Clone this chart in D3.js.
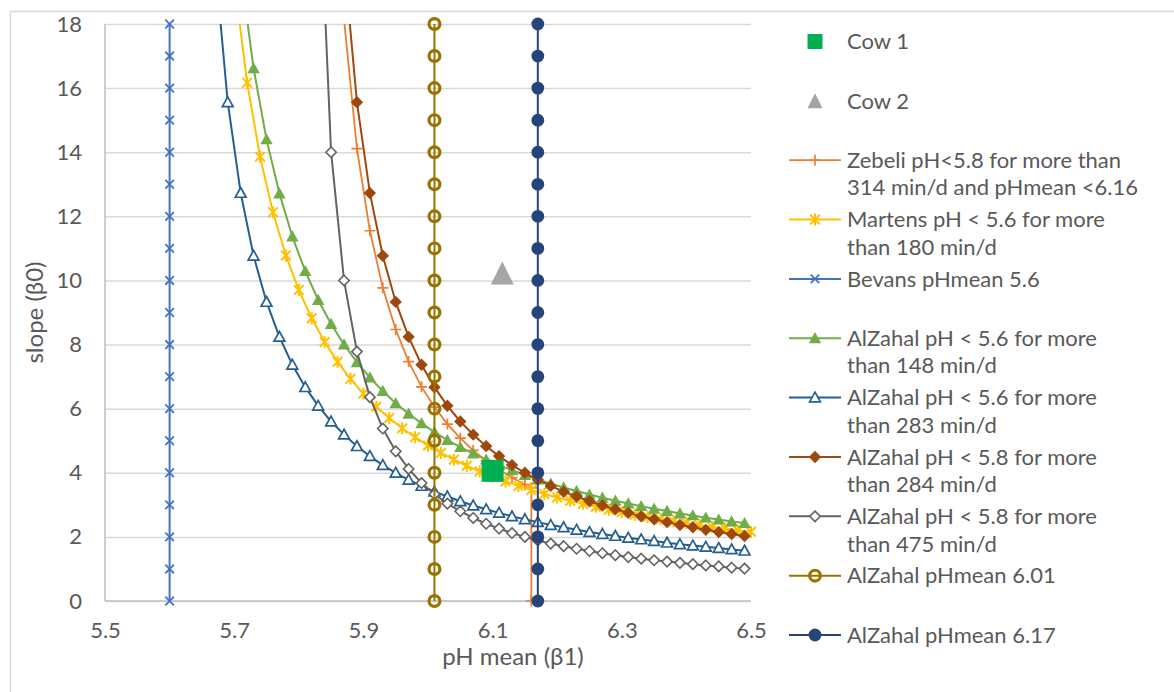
<!DOCTYPE html>
<html>
<head>
<meta charset="utf-8">
<script src="https://cdn.jsdelivr.net/npm/d3@7"></script>
<style>
  html, body { margin: 0; padding: 0; background: #ffffff; }
  svg { display: block; font-family: Lato, "Open Sans", sans-serif; }
</style>
</head>
<body>
<svg id="chart" width="1174" height="692"></svg>
<script>
// ---- data -------------------------------------------------------------
// Axis ticks
const xTickValues = [5.5, 5.7, 5.9, 6.1, 6.3, 6.5];
const yTickValues = [0, 2, 4, 6, 8, 10, 12, 14, 16, 18];

// Individual cows: [pH mean (β1), slope (β0)]
const cow1 = [6.10, 4.06];
const cow2 = [6.115, 10.23];

// Zebeli pH<5.8 for more than 314 min/d and pHmean <6.16
const zebeliX = [5.85, 5.87, 5.89, 5.91, 5.93, 5.95, 5.97, 5.99, 6.01, 6.03, 6.05, 6.07, 6.09, 6.11, 6.13, 6.15, 6.16, 6.16];
const zebeliY = [25.40, 18.14, 14.11, 11.55, 9.77, 8.47, 7.47, 6.68, 6.05, 5.52, 5.08, 4.70, 4.38, 4.10, 3.85, 3.63, 3.53, 0];

// Martens pH < 5.6 for more than 180 min/d
const martensX = [5.70, 5.72, 5.74, 5.76, 5.78, 5.80, 5.82, 5.84, 5.86, 5.88, 5.90, 5.92, 5.94, 5.96, 5.98, 6.00, 6.02, 6.04, 6.06, 6.08, 6.10,
                  6.12, 6.14, 6.16, 6.18, 6.20, 6.22, 6.24, 6.26, 6.28, 6.30, 6.32, 6.34, 6.36, 6.38, 6.40, 6.42, 6.44, 6.46, 6.48, 6.50];
const martensY = [19.40, 16.17, 13.86, 12.13, 10.78, 9.70, 8.82, 8.08, 7.46, 6.93, 6.47, 6.06, 5.71, 5.39, 5.11, 4.85, 4.62, 4.41, 4.22, 4.04, 3.88,
                  3.73, 3.59, 3.46, 3.34, 3.23, 3.13, 3.03, 2.94, 2.85, 2.77, 2.69, 2.62, 2.55, 2.49, 2.43, 2.37, 2.31, 2.26, 2.20, 2.16];

// Vertical pH-mean thresholds share the same slope steps
const thresholdSlopes = [0, 1, 2, 3, 4, 5, 6, 7, 8, 9, 10, 11, 12, 13, 14, 15, 16, 17, 18];
const bevansPH = 5.6;
const alzahalPH601 = 6.01;
const alzahalPH617 = 6.17;

// AlZahal pH < 5.6 for more than 148 min/d
const az148X = [5.71, 5.73, 5.75, 5.77, 5.79, 5.81, 5.83, 5.85, 5.87, 5.89, 5.91, 5.93, 5.95, 5.97, 5.99, 6.01, 6.03, 6.05, 6.07, 6.09,
                6.11, 6.13, 6.15, 6.17, 6.19, 6.21, 6.23, 6.25, 6.27, 6.29, 6.31, 6.33, 6.35, 6.37, 6.39, 6.41, 6.43, 6.45, 6.47, 6.49];
const az148Y = [19.64, 16.62, 14.40, 12.71, 11.37, 10.29, 9.39, 8.64, 8.00, 7.45, 6.97, 6.55, 6.17, 5.84, 5.54, 5.27, 5.02, 4.80, 4.60, 4.41,
                4.24, 4.08, 3.93, 3.79, 3.66, 3.54, 3.43, 3.32, 3.22, 3.13, 3.04, 2.96, 2.88, 2.81, 2.73, 2.67, 2.60, 2.54, 2.48, 2.43];

// AlZahal pH < 5.6 for more than 283 min/d
const az283X = [5.67, 5.69, 5.71, 5.73, 5.75, 5.77, 5.79, 5.81, 5.83, 5.85, 5.87, 5.89, 5.91, 5.93, 5.95, 5.97, 5.99, 6.01, 6.03, 6.05, 6.07,
                6.09, 6.11, 6.13, 6.15, 6.17, 6.19, 6.21, 6.23, 6.25, 6.27, 6.29, 6.31, 6.33, 6.35, 6.37, 6.39, 6.41, 6.43, 6.45, 6.47, 6.49];
const az283Y = [20.00, 15.56, 12.73, 10.77, 9.33, 8.24, 7.37, 6.67, 6.09, 5.60, 5.19, 4.83, 4.52, 4.24, 4.00, 3.78, 3.59, 3.41, 3.26, 3.11, 2.98,
                2.86, 2.75, 2.64, 2.55, 2.46, 2.37, 2.30, 2.22, 2.15, 2.09, 2.03, 1.97, 1.92, 1.87, 1.82, 1.77, 1.73, 1.69, 1.65, 1.61, 1.57];

// AlZahal pH < 5.8 for more than 284 min/d
const az284X = [5.87, 5.89, 5.91, 5.93, 5.95, 5.97, 5.99, 6.01, 6.03, 6.05, 6.07, 6.09, 6.11, 6.13, 6.15, 6.17,
                6.19, 6.21, 6.23, 6.25, 6.27, 6.29, 6.31, 6.33, 6.35, 6.37, 6.39, 6.41, 6.43, 6.45, 6.47, 6.49];
const az284Y = [20.00, 15.56, 12.73, 10.77, 9.33, 8.24, 7.37, 6.67, 6.09, 5.60, 5.19, 4.83, 4.52, 4.24, 4.00, 3.78,
                3.59, 3.41, 3.26, 3.11, 2.98, 2.86, 2.75, 2.64, 2.55, 2.46, 2.37, 2.30, 2.22, 2.15, 2.09, 2.03];

// AlZahal pH < 5.8 for more than 475 min/d
const az475X = [5.83, 5.85, 5.87, 5.89, 5.91, 5.93, 5.95, 5.97, 5.99, 6.01, 6.03, 6.05, 6.07, 6.09, 6.11, 6.13, 6.15,
                6.17, 6.19, 6.21, 6.23, 6.25, 6.27, 6.29, 6.31, 6.33, 6.35, 6.37, 6.39, 6.41, 6.43, 6.45, 6.47, 6.49];
const az475Y = [23.33, 14.00, 10.00, 7.78, 6.36, 5.38, 4.67, 4.12, 3.68, 3.33, 3.04, 2.80, 2.59, 2.41, 2.26, 2.12, 2.00,
                1.89, 1.79, 1.71, 1.63, 1.56, 1.49, 1.43, 1.37, 1.32, 1.27, 1.23, 1.19, 1.15, 1.11, 1.08, 1.04, 1.01];

// ---- layout -------------------------------------------------------------
const W = 1174, H = 692;
const plot = { left: 105, right: 751, top: 24, bottom: 601 };
const textColor = "#595959";
const gridColor = "#d9d9d9";
const tickFont = 22, titleFont = 24, legendFont = 22;

const svg = d3.select("#chart");
const x = d3.scaleLinear().domain([5.5, 6.5]).range([plot.left, plot.right]);
const y = d3.scaleLinear().domain([0, 18]).range([plot.bottom, plot.top]);

// chart frame
svg.append("path")
  .attr("d", `M10.5,${H}V11.5H${W}`)
  .attr("fill", "none").attr("stroke", gridColor).attr("stroke-width", 1.3);

// horizontal gridlines + y tick labels
const yAxisG = svg.append("g")
  .attr("transform", `translate(${plot.left},0)`)
  .call(d3.axisLeft(y).tickValues(yTickValues).tickFormat(d3.format("d"))
        .tickSize(-(plot.right - plot.left)).tickPadding(23));
yAxisG.select(".domain").remove();
yAxisG.selectAll(".tick line").attr("stroke", gridColor).attr("stroke-width", 1.5);
yAxisG.selectAll(".tick text").attr("fill", textColor).attr("font-size", tickFont).attr("font-family", "Lato");

// x tick labels
const xAxisG = svg.append("g")
  .attr("transform", `translate(0,${plot.bottom})`)
  .call(d3.axisBottom(x).tickValues(xTickValues).tickFormat(d3.format(".1f"))
        .tickSize(0).tickPadding(21));
xAxisG.select(".domain").remove();
xAxisG.selectAll(".tick text").attr("fill", textColor).attr("font-size", tickFont).attr("font-family", "Lato");

// axis lines
svg.append("line")
  .attr("x1", plot.left).attr("x2", plot.left).attr("y1", plot.top).attr("y2", plot.bottom)
  .attr("stroke", "#bfbfbf").attr("stroke-width", 1.5);
svg.append("line")
  .attr("x1", plot.left).attr("x2", plot.right).attr("y1", plot.bottom).attr("y2", plot.bottom)
  .attr("stroke", "#bfbfbf").attr("stroke-width", 1.5);

// axis titles
svg.append("text")
  .attr("x", 513).attr("y", 665)
  .attr("text-anchor", "middle").attr("fill", textColor).attr("font-size", titleFont)
  .text("pH mean (β1)");
svg.append("text")
  .attr("transform", `translate(43,${(plot.top + plot.bottom) / 2}) rotate(-90)`)
  .attr("text-anchor", "middle").attr("fill", textColor).attr("font-size", titleFont)
  .text("slope (β0)");

// ---- marker shapes --------------------------------------------------------
const shapes = {
  plus:     r => `M${-r},0H${r}M0,${-r}V${r}`,
  cross:    r => `M${-r},${-r}L${r},${r}M${-r},${r}L${r},${-r}`,
  star:     r => `M${-r},${-r}L${r},${r}M${-r},${r}L${r},${-r}M0,${-r * 1.25}V${r * 1.25}`,
  triangle: r => `M0,${-r}L${r},${r * 0.8}L${-r},${r * 0.8}Z`,
  diamond:  r => `M0,${-r}L${r},0L0,${r}L${-r},0Z`,
  circle:   r => `M${-r},0A${r},${r} 0 1,0 ${r},0A${r},${r} 0 1,0 ${-r},0Z`,
  square:   r => `M${-r},${-r}H${r}V${r}H${-r}Z`
};

const series = [
  { name: ["Zebeli pH<5.8 for more than", "314 min/d and pHmean <6.16"], xs: zebeliX, ys: zebeliY,
    color: "#ED7D31", lw: 1.8, shape: "plus", r: 5.5, fill: "none", sw: 1.7 },
  { name: ["Martens pH < 5.6 for more", "than 180 min/d"], xs: martensX, ys: martensY,
    color: "#FFC000", lw: 2, shape: "star", r: 4.8, fill: "none", sw: 2 },
  { name: ["Bevans pHmean 5.6"], xs: thresholdSlopes.map(() => bevansPH), ys: thresholdSlopes,
    color: "#4472C4", lw: 2, shape: "cross", r: 4.3, fill: "none", sw: 1.8 },
  { name: ["AlZahal pH < 5.6 for more", "than 148 min/d"], xs: az148X, ys: az148Y,
    color: "#70AD47", lw: 2, shape: "triangle", r: 6.2, fill: "#70AD47", sw: 0 },
  { name: ["AlZahal pH < 5.6 for more", "than 283 min/d"], xs: az283X, ys: az283Y,
    color: "#255E91", lw: 2, shape: "triangle", r: 5.4, fill: "#ffffff", sw: 1.7 },
  { name: ["AlZahal pH < 5.8 for more", "than 284 min/d"], xs: az284X, ys: az284Y,
    color: "#9E480E", lw: 2, shape: "diamond", r: 6.2, fill: "#9E480E", sw: 0 },
  { name: ["AlZahal pH < 5.8 for more", "than 475 min/d"], xs: az475X, ys: az475Y,
    color: "#636363", lw: 2, shape: "diamond", r: 5.2, fill: "#ffffff", sw: 1.6 },
  { name: ["AlZahal pHmean 6.01"], xs: thresholdSlopes.map(() => alzahalPH601), ys: thresholdSlopes,
    color: "#997300", lw: 2, shape: "circle", r: 5.4, fill: "none", sw: 3.2 },
  { name: ["AlZahal pHmean 6.17"], xs: thresholdSlopes.map(() => alzahalPH617), ys: thresholdSlopes,
    color: "#264478", lw: 2, shape: "circle", r: 6.4, fill: "#264478", sw: 0 }
];

// clip lines to the plot area
svg.append("defs").append("clipPath").attr("id", "plotClip")
  .append("rect")
  .attr("x", plot.left).attr("y", plot.top)
  .attr("width", plot.right - plot.left).attr("height", plot.bottom - plot.top);

const line = d3.line().x(d => x(d[0])).y(d => y(d[1]));

function drawMarker(g, s, cx, cy) {
  g.append("path")
    .attr("d", shapes[s.shape](s.r))
    .attr("transform", `translate(${cx},${cy})`)
    .attr("fill", s.fill)
    .attr("stroke", s.sw > 0 ? s.color : "none")
    .attr("stroke-width", s.sw);
}

series.forEach(s => {
  const pts = s.xs.map((v, i) => [v, s.ys[i]]);
  const g = svg.append("g");
  g.append("path")
    .datum(pts)
    .attr("d", line)
    .attr("clip-path", "url(#plotClip)")
    .attr("fill", "none")
    .attr("stroke", s.color)
    .attr("stroke-width", s.lw);
  pts.filter(p => p[1] <= 18 && p[0] >= 5.5 && p[0] <= 6.5)
     .forEach(p => drawMarker(g, s, x(p[0]), y(p[1])));
});

// individual cows
const cowMarkers = [
  { name: "Cow 1", pt: cow1, shape: "square", color: "#00B050", r: 11 },
  { name: "Cow 2", pt: cow2, shape: "triangle", color: "#A5A5A5", r: 11.5 }
];
cowMarkers.forEach(c => {
  svg.append("path")
    .attr("d", c.shape === "triangle"
      ? `M0,${-c.r}L${c.r},${c.r}L${-c.r},${c.r}Z`
      : shapes.square(c.r))
    .attr("transform", `translate(${x(c.pt[0])},${y(c.pt[1])})`)
    .attr("fill", c.color);
});

// ---- legend -------------------------------------------------------------
const legend = svg.append("g").attr("font-size", legendFont).attr("fill", textColor);
const legendRow0 = 41.5, legendPitch = 59.35;
const lineX1 = 789, lineX2 = 841, markerX = 815, textX = 847;

cowMarkers.forEach((c, i) => {
  const cy = legendRow0 + i * legendPitch;
  legend.append("path")
    .attr("d", c.shape === "triangle" ? `M0,-7.5L7.5,7.5L-7.5,7.5Z` : shapes.square(7.5))
    .attr("transform", `translate(${markerX},${cy})`)
    .attr("fill", c.color);
  legend.append("text").attr("x", textX).attr("y", cy).attr("dy", "0.35em").text(c.name);
});

series.forEach((s, i) => {
  const cy = legendRow0 + (i + 2) * legendPitch;
  const g = legend.append("g");
  g.append("line")
    .attr("x1", lineX1).attr("x2", lineX2).attr("y1", cy).attr("y2", cy)
    .attr("stroke", s.color).attr("stroke-width", s.lw);
  drawMarker(g, s, markerX, cy);
  s.name.forEach((t, k) => {
    legend.append("text").attr("x", textX).attr("y", cy + k * 27.5).attr("dy", "0.35em").text(t);
  });
});
</script>
</body>
</html>
